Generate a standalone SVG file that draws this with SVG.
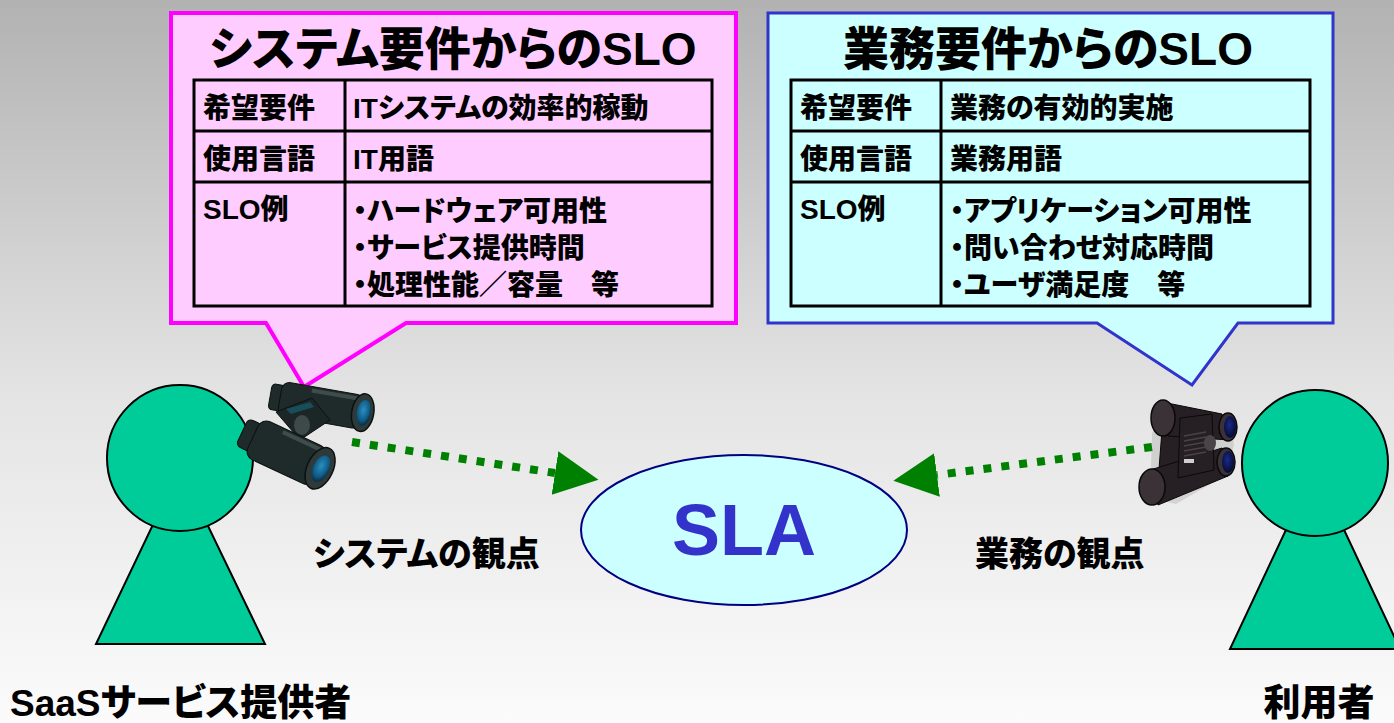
<svg xmlns="http://www.w3.org/2000/svg" width="1394" height="723" viewBox="0 0 1394 723">
  <defs>
    <linearGradient id="bg" x1="0" y1="0" x2="0" y2="1">
      <stop offset="0" stop-color="#b2b2b2"/>
      <stop offset="0.55" stop-color="#e4e4e4"/>
      <stop offset="1" stop-color="#fbfbfb"/>
    </linearGradient>
    <radialGradient id="lensL" cx="0.45" cy="0.4" r="0.6">
      <stop offset="0" stop-color="#2a8fc0"/>
      <stop offset="0.7" stop-color="#0f5a85"/>
      <stop offset="1" stop-color="#082c45"/>
    </radialGradient>
    <radialGradient id="lensR" cx="0.45" cy="0.4" r="0.6">
      <stop offset="0" stop-color="#1a2a8a"/>
      <stop offset="1" stop-color="#050a30"/>
    </radialGradient>
    <marker id="head" markerUnits="userSpaceOnUse" markerWidth="46" markerHeight="46" refX="0" refY="22" orient="auto">
      <path d="M0,0 L44,22 L0,44 Z" fill="#008000"/>
    </marker>
    <style>
      text { font-family: "Liberation Sans", "Noto Sans CJK JP", sans-serif; font-weight: 900; fill: #000; font-feature-settings: "palt" 1; }
      .title { font-size: 46px; text-anchor: middle; }
      .cell { font-size: 28px; }
      .grid { fill: none; stroke: #000; stroke-width: 3; }
      .person { fill: #00cc99; stroke: #000; stroke-width: 2; }
      .label { font-size: 37px; }
      .view { font-size: 34px; }
      .dots { fill: none; stroke: #008000; stroke-width: 8; stroke-dasharray: 8 10; marker-end: url(#head); }
      .bodyL { fill: #1f2a2a; stroke: #0c1010; stroke-width: 1; }
      .ringL { fill: #2e3a3a; stroke: #0c1010; stroke-width: 1.5; }
      .bodyR { fill: #262024; stroke: #0a0808; stroke-width: 1; }
      .ringR { fill: #3a3236; stroke: #0a0808; stroke-width: 1.5; }
    </style>
  </defs>

  <!-- backdrop -->
  <rect x="0" y="0" width="1394" height="723" fill="url(#bg)"/>

  <!-- system-side requirement callout -->
  <g id="callout-system">
    <path d="M171,13 H736 V323 H406 L304,387 L266,323 H171 Z" fill="#ffccff" stroke="#ff00ff" stroke-width="4"/>
    <text class="title" x="453" y="65">システム要件からのSLO</text>
    <rect class="grid" x="194" y="80" width="518" height="226"/>
    <path class="grid" d="M345,80 V306 M194,131 H712 M194,182 H712"/>
    <text class="cell" x="203" y="118">希望要件</text>
    <text class="cell" x="353" y="118">ITシステムの効率的稼動</text>
    <text class="cell" x="203" y="169">使用言語</text>
    <text class="cell" x="353" y="169">IT用語</text>
    <text class="cell" x="203" y="219">SLO例</text>
    <text class="cell" x="353" y="221">・ハードウェア可用性</text>
    <text class="cell" x="353" y="258">・サービス提供時間</text>
    <text class="cell" x="353" y="295">・処理性能／容量　等</text>
  </g>

  <!-- business-side requirement callout -->
  <g id="callout-business">
    <path d="M768,13 H1333 V323 H1238 L1192,385 L1097,323 H768 Z" fill="#ccffff" stroke="#3333cc" stroke-width="3"/>
    <text class="title" x="1048" y="65">業務要件からのSLO</text>
    <rect class="grid" x="791" y="80" width="519" height="226"/>
    <path class="grid" d="M941,80 V306 M791,131 H1310 M791,182 H1310"/>
    <text class="cell" x="800" y="118">希望要件</text>
    <text class="cell" x="950" y="118">業務の有効的実施</text>
    <text class="cell" x="800" y="169">使用言語</text>
    <text class="cell" x="950" y="169">業務用語</text>
    <text class="cell" x="800" y="219">SLO例</text>
    <text class="cell" x="950" y="221">・アプリケーション可用性</text>
    <text class="cell" x="950" y="258">・問い合わせ対応時間</text>
    <text class="cell" x="950" y="295">・ユーザ満足度　等</text>
  </g>

  <!-- provider figure -->
  <g id="provider">
    <polygon class="person" points="180,468 96,644 265,644"/>
    <circle class="person" cx="180" cy="458" r="73"/>
    <text class="label" x="10" y="716">SaaSサービス提供者</text>
  </g>

  <!-- user figure -->
  <g id="user">
    <polygon class="person" points="1315,468 1230,649 1400,649"/>
    <circle class="person" cx="1315" cy="463" r="73"/>
    <text class="label" x="1319" y="716" text-anchor="middle">利用者</text>
  </g>

  <!-- agreement -->
  <g id="sla">
    <ellipse cx="744" cy="530" rx="163" ry="75" fill="#ccffff" stroke="#000080" stroke-width="2"/>
    <text x="744" y="555" text-anchor="middle" font-size="72" style="fill:#3333cc">SLA</text>
  </g>

  <!-- viewpoint labels -->
  <g id="view-labels">
    <text class="view" x="313" y="566">システムの観点</text>
    <text class="view" x="975" y="566">業務の観点</text>
  </g>

  <!-- provider's binoculars -->
  <g id="binoculars-left">
    <!-- far barrel -->
    <g transform="translate(280,398) rotate(10)">
      <rect class="bodyL" x="-10" y="-13" width="14" height="26" rx="4"/>
      <rect class="bodyL" x="0" y="-17" width="84" height="34" rx="8"/>
      <rect x="30" y="-15" width="50" height="4" fill="#3e4c4c"/>
      <ellipse class="ringL" cx="84" cy="0" rx="11" ry="19"/>
      <ellipse cx="85" cy="0" rx="7" ry="13" fill="url(#lensL)"/>
    </g>
    <!-- bridge -->
    <path d="M276,412 L312,398 L330,420 L300,440 Z" fill="#1c2626" stroke="#0c1010"/>
    <path d="M286,409 L310,402 L314,407 L291,414 Z" fill="#184e58"/>
    <ellipse cx="302" cy="425" rx="8" ry="10" fill="#3d4a48"/>
    <!-- near barrel -->
    <g transform="translate(253,437) rotate(25)">
      <rect class="bodyL" x="-12" y="-15" width="16" height="30" rx="5"/>
      <rect class="bodyL" x="0" y="-21" width="74" height="42" rx="9"/>
      <rect x="25" y="-19" width="45" height="4" fill="#3e4c4c"/>
      <ellipse class="ringL" cx="74" cy="0" rx="13" ry="22"/>
      <ellipse cx="75" cy="0" rx="8" ry="14" fill="url(#lensL)"/>
    </g>
  </g>

  <!-- user's binoculars -->
  <g id="binoculars-right">
    <path d="M1156,405 L1226,418 L1230,440 L1224,470 L1172,500 L1146,494 L1148,430 Z" fill="#000" opacity="0.1" transform="translate(4,4)"/>
    <!-- frame between the barrels -->
    <path class="bodyR" d="M1162,430 L1184,418 L1182,478 L1158,482 Z"/>
    <!-- upper barrel -->
    <path class="bodyR" d="M1162,402 L1222,414 L1230,440 L1168,436 Z"/>
    <ellipse class="ringR" cx="1163" cy="418" rx="12" ry="18"/>
    <ellipse class="ringR" cx="1228" cy="427" rx="9" ry="14"/>
    <ellipse cx="1230" cy="427" rx="6" ry="11" fill="url(#lensR)"/>
    <!-- lower barrel -->
    <path class="bodyR" d="M1150,470 L1222,448 L1228,476 L1158,505 Z"/>
    <ellipse class="ringR" cx="1152" cy="487" rx="13" ry="18"/>
    <ellipse class="ringR" cx="1226" cy="462" rx="9" ry="14"/>
    <ellipse cx="1228" cy="462" rx="6" ry="11" fill="url(#lensR)"/>
    <!-- hinge and focus wheel -->
    <path class="bodyR" d="M1180,418 L1212,414 L1214,470 L1178,478 Z"/>
    <g stroke="#4a4246" stroke-width="1.5">
      <line x1="1184" y1="436" x2="1206" y2="432"/>
      <line x1="1184" y1="441" x2="1206" y2="437"/>
      <line x1="1184" y1="446" x2="1206" y2="442"/>
      <line x1="1184" y1="451" x2="1206" y2="447"/>
      <line x1="1184" y1="456" x2="1206" y2="452"/>
    </g>
    <rect x="1184" y="459" width="10" height="4" fill="#cfcfcf"/>
    <ellipse cx="1210" cy="443" rx="6" ry="8" fill="#4a4448"/>
  </g>

  <!-- sight lines toward the agreement -->
  <g id="connectors">
    <line class="dots" x1="352" y1="442" x2="555" y2="473"/>
    <line class="dots" x1="1152" y1="447" x2="937" y2="475"/>
  </g>
</svg>
